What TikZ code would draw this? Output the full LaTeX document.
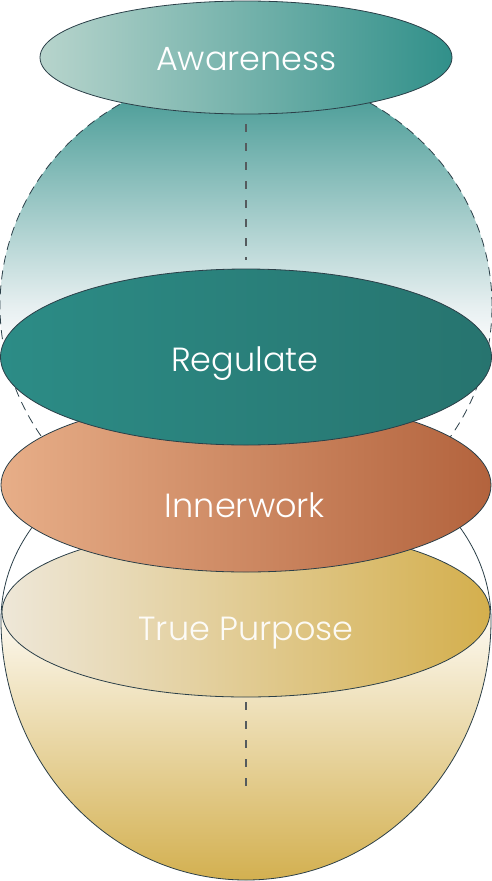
\documentclass[tikz,border=0pt]{standalone}
\usepackage{fontspec}
\usetikzlibrary{shapes.geometric}
\newfontfamily\lbfont{Poppins}[UprightFont={* Light}]
\definecolor{edge}{HTML}{2B3F48}
\definecolor{guidegray}{HTML}{555B5E}
\definecolor{domeTop}{HTML}{3A948E}
\definecolor{domeBot}{HTML}{E6EFF0}
\definecolor{creamTop}{HTML}{FCF8EE}
\definecolor{creamMid}{HTML}{F1E6C2}
\definecolor{goldBot}{HTML}{D3B050}
\definecolor{awL}{HTML}{B7D4CC}
\definecolor{awR}{HTML}{31908A}
\definecolor{reL}{HTML}{2C8C86}
\definecolor{reR}{HTML}{27746F}
\definecolor{inL}{HTML}{E7AE88}
\definecolor{inR}{HTML}{B3633D}
\definecolor{tpL}{HTML}{EEE7D8}
\definecolor{tpR}{HTML}{D4AF4D}
\pgfdeclareverticalshading{domeshade}{100bp}{color(0bp)=(white); color(45bp)=(white); color(50bp)=(domeBot); color(75bp)=(domeTop); color(100bp)=(domeTop)}
\tikzset{
  disc/.style={ellipse, draw=edge, line width=0.8pt, inner sep=0pt},
  lbl/.style={text=white, font=\lbfont\fontsize{33.5}{38}\selectfont, anchor=base, inner sep=0pt},
  guide/.style={draw=guidegray, line width=1.1pt, dash pattern=on 8pt off 11pt},
  domeline/.style={draw=edge, line width=0.8pt, dash pattern=on 9pt off 6pt},
  sphereline/.style={draw=edge, line width=0.8pt},
}
\begin{document}
\begin{tikzpicture}[x=1pt, y=-1pt]
\useasboundingbox (0,0) rectangle (492,881);
% bottom sphere fill (lower half)
\path[shading=axis, top color=creamTop, middle color=creamMid, bottom color=goldBot]
  (1,620) arc[start angle=180, end angle=360, x radius=245pt, y radius=260pt] -- cycle;
% top dome fill
\path[shading=domeshade] (246,306) ellipse[x radius=246pt, y radius=235pt];
\path[domeline] (246,306) ellipse[x radius=246pt, y radius=235pt];
% axis guides
\coordinate (gt1) at (246,124);
\coordinate (gt2) at (246,260);
\coordinate (gb1) at (246,702);
\coordinate (gb2) at (246,795);
\draw[guide] (gt1) -- (gt2);
\draw[guide] (gb1) -- (gb2);
% True Purpose disc
\node[disc, shading=axis, left color=tpL, right color=tpR, minimum width=488pt, minimum height=170pt] (tp) at (246,612) {};
% bottom sphere outline
\path[sphereline] (1,620) arc[start angle=180, end angle=0, x radius=245pt, y radius=190pt]
  arc[start angle=0, end angle=-180, x radius=245pt, y radius=260pt];
% Innerwork disc
\node[disc, shading=axis, left color=inL, right color=inR, minimum width=490pt, minimum height=174pt] (in) at (246,485) {};
% Regulate disc
\node[disc, shading=axis, left color=reL, right color=reR, minimum width=491pt, minimum height=176pt] (re) at (246,357) {};
% Awareness disc
\node[disc, shading=axis, left color=awL, right color=awR, minimum width=412pt, minimum height=113pt] (aw) at (246,57.5) {};
% labels
\node[lbl] (taw) at (246.5,70) {Awareness};
\node[lbl] (tre) at (245,371) {Regulate};
\node[lbl] (tin) at (245,517) {Innerwork};
\node[lbl, text opacity=0.92] (ttp) at (246,640) {True Purpose};
\end{tikzpicture}
\end{document}
